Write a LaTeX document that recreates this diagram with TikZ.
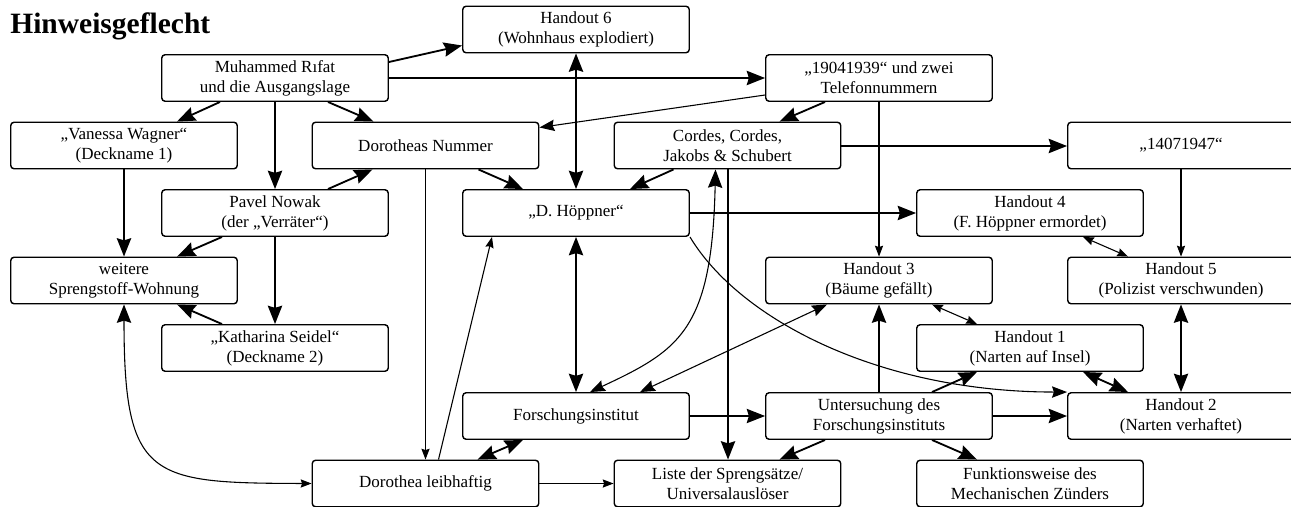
\documentclass[tikz,border=0pt]{standalone}
\usepackage{fontspec}
\setmainfont{Liberation Serif}
\usetikzlibrary{arrows.meta,calc}
\tikzset{
  box/.style={draw, rounded corners=2pt, line width=0.85pt, minimum width=135.9pt,
    minimum height=27.9pt, inner sep=0pt, align=center, font=\fontsize{10.2}{12}\selectfont},
  thk/.style={line width=1.1pt},
  med/.style={line width=0.9pt},
  thn/.style={line width=0.65pt},
  tipL/.tip={Stealth[length=11pt,width=8.6pt,inset=1.3pt]},
  tipM/.tip={Stealth[length=9pt,width=6.8pt,inset=1.1pt]},
  tipS/.tip={Stealth[length=6.5pt,width=4.9pt,inset=0.8pt]},
}
\begin{document}
\begin{tikzpicture}[x=0.6pt,y=-0.6pt]
\useasboundingbox (0,0) rectangle (1291,506);
\node[anchor=base west, font=\bfseries\fontsize{17.7}{20}\selectfont, inner sep=0pt] (title) at (10,33) {Hinweisgeflecht};

\node[box] (h6) at (576,29.5) {Handout 6\\(Wohnhaus explodiert)};
\node[box] (mr) at (275,78) {Muhammed Rıfat\\und die Ausgangslage};
\node[box] (nr) at (879,78) {„19041939“ und zwei\\Telefonnummern};
\node[box] (vw) at (124,145.5) {„Vanessa Wagner“\\(Deckname 1)};
\node[box] (dn) at (425.5,145.5) {Dorotheas Nummer};
\node[box] (cc) at (727.5,145.5) {Cordes, Cordes,\\Jakobs \& Schubert};
\node[box] (n14) at (1181,145.5) {„14071947“};
\node[box] (pn) at (275,213) {Pavel Nowak\\(der „Verräter“)};
\node[box] (dh) at (576,213) {„D. Höppner“};
\node[box] (h4) at (1030,213) {Handout 4\\(F. Höppner ermordet)};
\node[box] (ws) at (124,280.5) {weitere\\Sprengstoff-Wohnung};
\node[box] (h3) at (879,280.5) {Handout 3\\(Bäume gefällt)};
\node[box] (h5) at (1181,280.5) {Handout 5\\(Polizist verschwunden)};
\node[box] (ks) at (275,348) {„Katharina Seidel“\\(Deckname 2)};
\node[box] (h1) at (1030,348) {Handout 1\\(Narten auf Insel)};
\node[box] (fi) at (576,416) {Forschungsinstitut};
\node[box] (ui) at (879,416) {Untersuchung des\\Forschungsinstituts};
\node[box] (h2) at (1181,416) {Handout 2\\(Narten verhaftet)};
\node[box] (dl) at (425.5,483.5) {Dorothea leibhaftig};
\node[box] (ls) at (727.5,483.5) {Liste der Sprengsätze/\\Universalauslöser};
\node[box] (fz) at (1030,483.5) {Funktionsweise des\\Mechanischen Zünders};

% row 1
\draw[thk,-tipL] ($(mr.east)+(0,-16)$) -- ($(h6.west)+(0,16)$);
\draw[thk,-tipL] (mr.east) -- (nr.west);
\draw[thk,-tipL] ($(mr.south)+(-55,0)$) -- ($(vw.north)+(53,0)$);
\draw[thk,-tipL] (mr.south) -- (pn.north);
\draw[thk,-tipL] ($(mr.south)+(53,0)$) -- ($(dn.north)+(-52,0)$);
\draw[thn,-tipM] ($(nr.west)+(0,17)$) -- ($(dn.east)+(0,-18)$);
\draw[thk,-tipL] ($(nr.south)+(-54,0)$) -- ($(cc.north)+(52,0)$);
\draw[thn,-tipS] (nr.south) -- (h3.north);
\draw[thk,tipL-tipL] (h6.south) -- (dh.north);
% row 2
\draw[thk,-tipL] (vw.south) -- (ws.north);
\draw[thk,-tipL] ($(dn.south)+(53,0)$) -- ($(dh.north)+(-53,0)$);
\draw[thn,-tipS] (dn.south) -- (dl.north);
\draw[thk,-tipL] ($(cc.east)+(0,0.5)$) -- ($(n14.west)+(0,0.5)$);
\draw[thk,-tipL] ($(cc.south)+(-54,0)$) -- ($(dh.north)+(54,0)$);
\draw[med,-tipL] ($(cc.south)+(0.5,0)$) -- ($(ls.north)+(0.5,0)$);
\draw[thn,-tipS] (n14.south) -- (h5.north);
% row 3
\draw[thk,-tipL] ($(pn.north)+(53,0)$) -- ($(dn.south)+(-53,0)$);
\draw[thk,-tipL] ($(pn.south)+(-53,0)$) -- ($(ws.north)+(53,0)$);
\draw[thk,-tipL] (pn.south) -- (ks.north);
\draw[thk,-tipL] (dh.east) -- (h4.west);
\draw[thk,tipL-tipL] (dh.south) -- (fi.north);
\draw[thn,-tipM] (dh.south east) .. controls (740,320) and (880,392) .. (h2.north west);
\draw[thn,tipS-tipS] ($(h4.south)+(53,0)$) -- ($(h5.north)+(-53,0)$);
% row 4/5
\draw[thk,-tipL] ($(ks.north)+(-53,0)$) -- ($(ws.south)+(53,0)$);
\draw[thn,tipL-tipS] (ws.south) .. controls (124,480) and (150,483) .. (dl.west);
\draw[thn,tipL-tipM] ($(cc.south)+(-12,0)$) .. controls (712,330) and (680,350) .. ($(fi.north)+(14,0)$);
\draw[thn,tipM-tipM] ($(h3.south)+(-52,0)$) -- ($(fi.north)+(64,0)$);
\draw[thn,tipS-tipS] ($(h3.south)+(53,0)$) -- ($(h1.north)+(-53,0)$);
\draw[thk,tipL-tipL] (h5.south) -- (h2.north);
% row 6
\draw[thn,-tipL] (fi.east) -- (ui.west);
\draw[thk,tipL-tipL] ($(fi.south)+(-53,0)$) -- ($(dl.north)+(52,0)$);
\draw[thn,-tipS] ($(dl.north)+(13,0)$) -- ($(dh.south)+(-84,0)$);
\draw[thk,-tipL] (ui.north) -- (h3.south);
\draw[thk,-tipL] ($(ui.north)+(53,0)$) -- ($(h1.south)+(-53,0)$);
\draw[thk,-tipL] (ui.east) -- (h2.west);
\draw[thk,-tipL] ($(ui.south)+(-54,0)$) -- ($(ls.north)+(52,0)$);
\draw[thk,-tipL] ($(ui.south)+(53,0)$) -- ($(fz.north)+(-53,0)$);
\draw[thk,tipL-tipL] ($(h1.south)+(53,0)$) -- ($(h2.north)+(-53,0)$);
% row 7
\draw[thn,-tipS] (dl.east) -- (ls.west);
\end{tikzpicture}
\end{document}
